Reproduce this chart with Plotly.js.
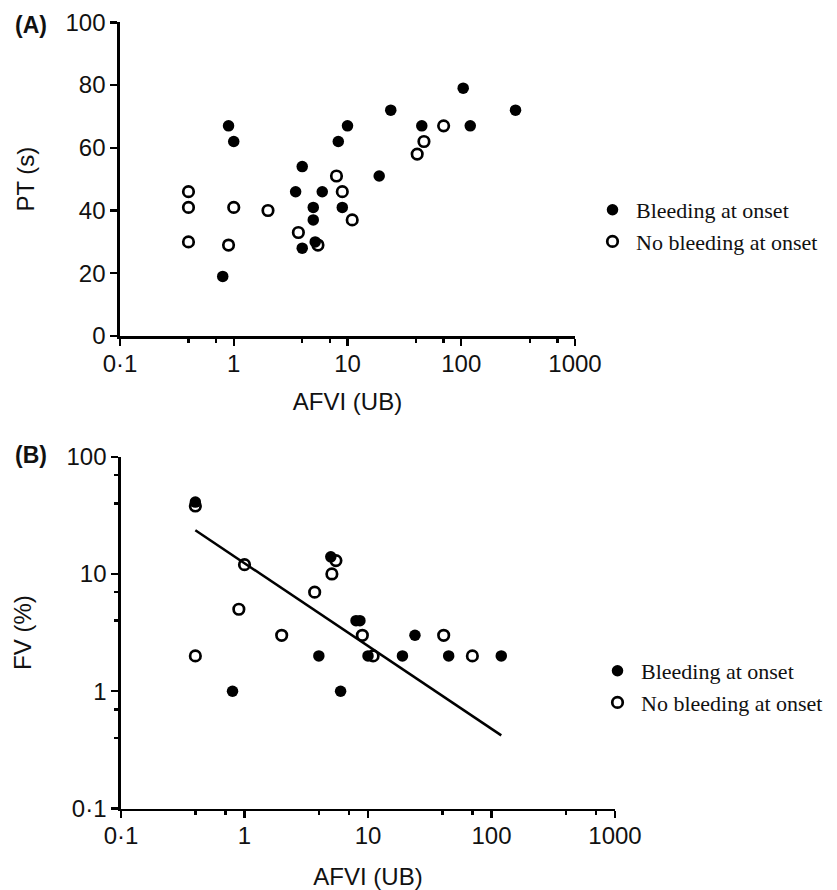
<!DOCTYPE html>
<html><head><meta charset="utf-8">
<script src="https://cdn.plot.ly/plotly-3.0.1.min.js"></script>
<style>html,body{margin:0;padding:0;background:#fff}#chart{width:837px;height:890px}</style>
</head><body><div id="chart"></div>
<script>
// ---- data ----
const seriesNames = ['Bleeding at onset', 'No bleeding at onset'];
const panelLabels = ['(A)', '(B)'];
const xTitle = 'AFVI (UB)';
const yTitleA = 'PT (s)';
const yTitleB = 'FV (%)';

// Panel A: PT (s) vs AFVI (UB)
const aBleedX = [0.8, 0.9, 1, 3.5, 4, 4, 5, 5, 5.2, 6, 8.3, 9, 10, 19, 24, 45, 104, 120, 300];
const aBleedY = [19, 67, 62, 46, 54, 28, 41, 37, 30, 46, 62, 41, 67, 51, 72, 67, 79, 67, 72];
const aNoBleedX = [0.4, 0.4, 0.4, 0.9, 1, 2, 3.7, 5.5, 8, 9, 11, 41, 47, 70];
const aNoBleedY = [46, 41, 30, 29, 41, 40, 33, 29, 51, 46, 37, 58, 62, 67];

// Panel B: FV (%) vs AFVI (UB)
const bBleedX = [0.4, 0.8, 4, 5, 6, 8, 8.6, 10, 19, 24, 45, 120];
const bBleedY = [41, 1, 2, 14, 1, 4, 4, 2, 2, 3, 2, 2];
const bNoBleedX = [0.4, 0.4, 0.9, 1, 2, 3.7, 5.1, 5.5, 9, 11, 41, 70];
const bNoBleedY = [38, 2, 5, 12, 3, 7, 10, 13, 3, 2, 3, 2];
const bFitX = [0.4, 120];
const bFitY = [23.6, 0.42];

// ticks
const logTickVals = [0.1, 1, 10, 100, 1000];
const logTickText = ['0·1', '1', '10', '100', '1000'];
const logMinorVals = [0.4, 0.7, 4, 7, 40, 70, 400, 700];
const fvTickVals = [0.1, 1, 10, 100];
const fvTickText = ['0·1', '1', '10', '100'];
const fvMinorVals = [0.4, 0.7, 4, 7, 40, 70];
const ptTickVals = [0, 20, 40, 60, 80, 100];

// ---- styling ----
const W = 837, H = 890;
const sans = 'Liberation Sans, Arial, sans-serif';
const serif = 'Liberation Serif, Times New Roman, serif';
const filled = {color: '#000', size: 11.5, symbol: 'circle'};
const open = {color: '#000', size: 10.5, symbol: 'circle-open', line: {color: '#000', width: 2.7}};

const traces = [
  {x: aBleedX, y: aBleedY, xaxis: 'x', yaxis: 'y', mode: 'markers', name: seriesNames[0], marker: filled, legend: 'legend'},
  {x: aNoBleedX, y: aNoBleedY, xaxis: 'x', yaxis: 'y', mode: 'markers', name: seriesNames[1], marker: open, legend: 'legend'},
  {x: bFitX, y: bFitY, xaxis: 'x2', yaxis: 'y2', mode: 'lines', line: {color: '#000', width: 2.5}, showlegend: false, hoverinfo: 'skip'},
  {x: bBleedX, y: bBleedY, xaxis: 'x2', yaxis: 'y2', mode: 'markers', name: seriesNames[0], marker: filled, legend: 'legend2'},
  {x: bNoBleedX, y: bNoBleedY, xaxis: 'x2', yaxis: 'y2', mode: 'markers', name: seriesNames[1], marker: open, legend: 'legend2'}
];

function axisBase() {
  return {
    showline: true, linecolor: '#000', linewidth: 2.7,
    ticks: 'outside', ticklen: 7, tickwidth: 2.4, tickcolor: '#000',
    showgrid: false, zeroline: false,
    tickfont: {family: sans, size: 24, color: '#111'},
    fixedrange: true
  };
}

const xA = Object.assign(axisBase(), {
  domain: [120 / W, 575 / W], anchor: 'y', type: 'log', range: [-1, 3],
  tickmode: 'array', tickvals: logTickVals, ticktext: logTickText, ticklabelstandoff: -3,
  minor: {tickmode: 'array', tickvals: logMinorVals, ticks: 'outside', ticklen: 4, tickwidth: 2.4, tickcolor: '#000'},
  title: {text: xTitle, font: {family: sans, size: 24, color: '#111'}, standoff: 18}
});
const yA = Object.assign(axisBase(), {
  domain: [1 - 336 / H, 1 - 22.3 / H], anchor: 'x', range: [0, 100],
  tickmode: 'array', tickvals: ptTickVals,
  title: {text: yTitleA, font: {family: sans, size: 24, color: '#111'}, standoff: 24}
});
const xB = Object.assign(axisBase(), {
  domain: [121 / W, 615 / W], anchor: 'y2', type: 'log', range: [-1, 3],
  tickmode: 'array', tickvals: logTickVals, ticktext: logTickText, ticklabelstandoff: -3,
  minor: {tickmode: 'array', tickvals: logMinorVals, ticks: 'outside', ticklen: 4, tickwidth: 2.4, tickcolor: '#000'},
  title: {text: xTitle, font: {family: sans, size: 24, color: '#111'}, standoff: 30}
});
const yB = Object.assign(axisBase(), {
  domain: [1 - 808.5 / H, 1 - 456.7 / H], anchor: 'x2', type: 'log', range: [-1, 2],
  tickmode: 'array', tickvals: fvTickVals, ticktext: fvTickText,
  minor: {tickmode: 'array', tickvals: fvMinorVals, ticks: 'outside', ticklen: 4, tickwidth: 2.4, tickcolor: '#000'},
  title: {text: yTitleB, font: {family: sans, size: 24, color: '#111'}, standoff: 28}
});

const legendStyle = {
  font: {family: serif, size: 22, color: '#111'},
  bgcolor: 'rgba(0,0,0,0)', borderwidth: 0, itemwidth: 37,
  xanchor: 'left', yanchor: 'top', itemclick: false, itemdoubleclick: false
};

const layout = {
  width: W, height: H,
  margin: {l: 0, r: 0, t: 0, b: 0},
  paper_bgcolor: '#fff', plot_bgcolor: '#fff',
  showlegend: true,
  xaxis: xA, yaxis: yA, xaxis2: xB, yaxis2: yB,
  legend: Object.assign({x: 589 / W, y: 1 - 189 / H}, legendStyle),
  legend2: Object.assign({x: 594 / W, y: 1 - 650 / H}, legendStyle),
  annotations: [
    {text: '<b>' + panelLabels[0] + '</b>', xref: 'paper', yref: 'paper', x: 31 / W, y: 1 - 25 / H,
     showarrow: false, font: {family: sans, size: 23, color: '#111'}, xanchor: 'center', yanchor: 'middle'},
    {text: '<b>' + panelLabels[1] + '</b>', xref: 'paper', yref: 'paper', x: 31 / W, y: 1 - 455 / H,
     showarrow: false, font: {family: sans, size: 23, color: '#111'}, xanchor: 'center', yanchor: 'middle'}
  ]
};

Plotly.newPlot('chart', traces, layout, {displayModeBar: false, staticPlot: true});
</script>
</body></html>
